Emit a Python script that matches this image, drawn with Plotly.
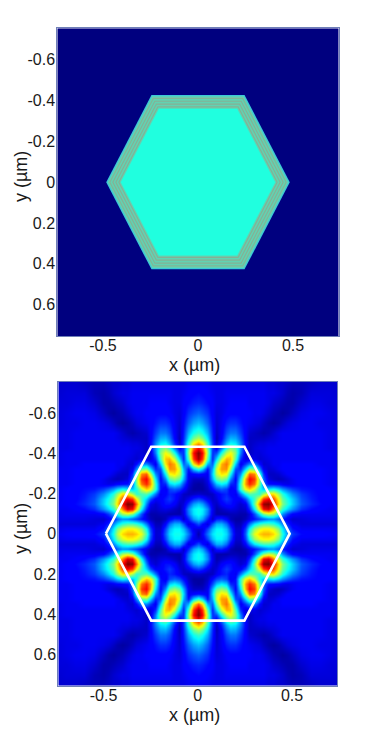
import numpy as np
import plotly.graph_objects as go

W, H = 374, 735
x_ticks = [-0.5, 0, 0.5]
x_labels = ["-0.5", "0", "0.5"]
y_ticks = [-0.6, -0.4, -0.2, 0, 0.2, 0.4, 0.6]
y_labels = ["-0.6", "-0.4", "-0.2", "0", "0.2", "0.4", "0.6"]

# top panel: layer boundaries (apothem, um) and their colours, outside to inside
layer_apothem = [0.428, 0.421, 0.414, 0.408, 0.400, 0.394, 0.386, 0.380, 0.372, 0.366, 0.360]
layer_color = ["#3cc8d8", "#62d2b2", "#82b596", "#62d2b2", "#86b094", "#62d2b2",
               "#86b094", "#62d2b2", "#86b094", "#62d2b2", "#20ffdf"]

# bottom panel: field intensity, one quadrant (x>=0, y>=0)
grid_axis = [0, .025, .05, .075, .10, .125, .15, .175, .20, .225, .25, .275, .30, .325, .35,
             .375, .40, .425, .45, .475, .50, .55, .60, .65, .70, .75]
field_quadrant = [
 [.04,.12,.24,.35,.39,.39,.34,.22,.08,.07,.22,.44,.60,.67,.70,.70,.66,.56,.40,.27,.18,.13,.12,.12,.11,.10],
 [.08,.09,.19,.31,.37,.37,.31,.19,.07,.07,.19,.38,.53,.60,.63,.63,.59,.50,.36,.23,.14,.10,.10,.10,.10,.09],
 [.20,.13,.08,.21,.30,.30,.23,.12,.05,.05,.12,.24,.36,.42,.45,.45,.42,.35,.26,.16,.10,.08,.08,.08,.08,.08],
 [.33,.28,.16,.06,.15,.16,.11,.05,.03,.03,.05,.09,.14,.19,.22,.26,.27,.22,.15,.10,.07,.08,.09,.09,.09,.09],
 [.39,.35,.24,.09,.04,.04,.04,.05,.05,.04,.04,.08,.20,.36,.50,.57,.53,.40,.27,.18,.12,.10,.10,.10,.10,.09],
 [.39,.36,.26,.10,.04,.06,.08,.09,.08,.06,.07,.17,.38,.65,.88,.92,.75,.56,.42,.34,.27,.17,.13,.11,.10,.10],
 [.32,.28,.18,.08,.06,.11,.14,.14,.10,.07,.10,.25,.48,.76,.98,1.0,.87,.66,.50,.41,.33,.21,.16,.13,.11,.10],
 [.19,.16,.10,.06,.08,.14,.18,.15,.11,.11,.20,.33,.44,.62,.82,.88,.80,.62,.47,.39,.32,.20,.15,.12,.11,.10],
 [.07,.06,.05,.06,.10,.14,.16,.12,.10,.24,.38,.46,.44,.42,.54,.64,.65,.53,.41,.33,.26,.18,.14,.12,.11,.10],
 [.03,.03,.06,.13,.19,.22,.19,.10,.14,.42,.62,.68,.58,.40,.32,.35,.38,.33,.27,.22,.18,.14,.13,.12,.11,.10],
 [.03,.04,.08,.20,.32,.37,.33,.16,.14,.42,.72,.84,.76,.50,.22,.14,.13,.12,.10,.09,.10,.12,.12,.11,.10,.10],
 [.06,.06,.10,.30,.46,.52,.47,.26,.12,.36,.70,.88,.82,.52,.22,.08,.06,.05,.06,.08,.10,.12,.12,.11,.10,.10],
 [.14,.12,.10,.34,.56,.65,.62,.38,.15,.26,.55,.78,.74,.44,.17,.06,.06,.07,.09,.11,.12,.12,.12,.11,.10,.10],
 [.42,.33,.14,.30,.58,.72,.73,.52,.20,.16,.34,.50,.48,.26,.10,.07,.08,.10,.11,.12,.12,.12,.11,.11,.10,.10],
 [.78,.64,.30,.22,.48,.70,.76,.64,.33,.10,.18,.26,.25,.13,.07,.08,.10,.10,.11,.11,.11,.11,.11,.10,.10,.09],
 [.97,.82,.46,.16,.34,.57,.70,.68,.45,.17,.08,.09,.09,.07,.08,.09,.10,.10,.10,.10,.10,.10,.10,.10,.10,.09],
 [1.0,.87,.52,.17,.20,.40,.56,.62,.50,.25,.08,.06,.08,.08,.09,.10,.10,.10,.10,.10,.10,.10,.10,.10,.10,.09],
 [.88,.76,.48,.18,.10,.24,.41,.50,.45,.28,.11,.06,.08,.09,.09,.10,.10,.10,.10,.10,.10,.10,.10,.10,.09,.09],
 [.70,.62,.42,.18,.06,.16,.30,.37,.35,.25,.12,.06,.07,.08,.08,.09,.09,.10,.10,.10,.10,.10,.10,.10,.09,.09],
 [.54,.48,.35,.16,.05,.12,.24,.30,.29,.21,.11,.06,.06,.06,.06,.07,.08,.09,.10,.10,.10,.10,.10,.10,.09,.09],
 [.43,.39,.30,.15,.06,.11,.20,.24,.24,.18,.11,.07,.06,.05,.04,.05,.07,.09,.10,.10,.10,.10,.10,.10,.09,.09],
 [.31,.28,.22,.13,.07,.10,.15,.17,.17,.14,.11,.10,.09,.08,.06,.04,.03,.04,.06,.08,.09,.10,.10,.09,.09,.08],
 [.22,.20,.17,.11,.08,.09,.11,.12,.12,.12,.11,.11,.10,.10,.09,.07,.05,.04,.03,.04,.06,.09,.10,.10,.09,.08],
 [.16,.15,.13,.11,.09,.09,.10,.11,.11,.11,.11,.10,.10,.10,.10,.09,.07,.06,.05,.04,.04,.07,.09,.09,.08,.08],
 [.13,.12,.11,.10,.09,.09,.10,.10,.10,.10,.10,.10,.10,.10,.10,.09,.09,.08,.07,.05,.04,.05,.08,.08,.08,.07],
 [.10,.10,.10,.09,.09,.09,.09,.09,.09,.09,.09,.09,.09,.09,.09,.08,.08,.07,.07,.06,.05,.05,.06,.07,.07,.07],
]
hex_outline_apothem = 0.432

JET = [[0, "#00007f"], [0.11, "#0000ff"], [0.125, "#0000ff"], [0.375, "#00ffff"],
       [0.625, "#ffff00"], [0.875, "#ff0000"], [1, "#7f0000"]]


def hexagon(a):
    vx = a * 1.128
    ex = a * 0.572
    return [-vx, -ex, ex, vx, ex, -ex, -vx], [0, -a, -a, 0, a, a, 0]


q = np.array(field_quadrant)
right = np.hstack([q[:, :0:-1], q])
full = np.vstack([right[:0:-1, :], right])
axis = np.array(grid_axis)
axis_full = np.concatenate([-axis[:0:-1], axis])

fig = go.Figure()
fig.add_trace(go.Scatter(x=[-.74, .74, .74, -.74, -.74], y=[-.755, -.755, .755, .755, -.755],
                         mode="lines", fill="toself", fillcolor="#00007f",
                         line=dict(width=0), xaxis="x", yaxis="y", hoverinfo="skip"))
for a, c in zip(layer_apothem, layer_color):
    hx, hy = hexagon(a)
    fig.add_trace(go.Scatter(x=hx, y=hy, mode="lines", fill="toself", fillcolor=c,
                             line=dict(width=0), xaxis="x", yaxis="y", hoverinfo="skip"))

fig.add_trace(go.Heatmap(x=axis_full, y=axis_full, z=full, zmin=0, zmax=1, colorscale=JET,
                         zsmooth="best", showscale=False, xaxis="x2", yaxis="y2"))
hx, hy = hexagon(hex_outline_apothem)
fig.add_trace(go.Scatter(x=hx, y=hy, mode="lines", line=dict(color="white", width=2.6),
                         xaxis="x2", yaxis="y2", hoverinfo="skip"))

font = dict(family="Liberation Sans, Arial, sans-serif", size=16, color="#1a1a1a")
tfont = dict(family="Liberation Sans, Arial, sans-serif", size=18, color="#1a1a1a")


def xa(dom, anchor):
    return dict(domain=dom, anchor=anchor, range=[-.74, .74], tickvals=x_ticks, ticktext=x_labels,
                ticks="", tickfont=font, ticklabelstandoff=-5, showgrid=False, zeroline=False,
                showline=True, mirror=True, linecolor="#6f7fb8", linewidth=1)


def ya(dom, anchor):
    return dict(domain=dom, anchor=anchor, range=[.755, -.755], tickvals=y_ticks, ticktext=y_labels,
                ticks="", tickfont=font, ticklabelstandoff=-2, showgrid=False, zeroline=False,
                showline=True, mirror=True, linecolor="#6f7fb8", linewidth=1)


def title(text, px, py, angle=0):
    return dict(text=text, x=px / W, y=1 - py / H, xref="paper", yref="paper", showarrow=False,
                xanchor="center", yanchor="middle", textangle=angle, font=tfont)


fig.update_layout(
    width=W, height=H, margin=dict(l=0, r=0, t=0, b=0), showlegend=False,
    paper_bgcolor="white", plot_bgcolor="white",
    xaxis=xa([57.3 / W, 338.7 / W], "y"),
    yaxis=ya([1 - 336 / H, 1 - 28.3 / H], "x"),
    xaxis2=xa([58.3 / W, 337.3 / W], "y2"),
    yaxis2=ya([1 - 685.7 / H, 1 - 381.7 / H], "x2"),
    annotations=[title("x (µm)", 194, 365), title("y (µm)", 21, 177, -90),
                 title("x (µm)", 194, 715), title("y (µm)", 21, 529, -90)],
)

fig.write_html("out.html", config=dict(displayModeBar=False, responsive=False),
               post_script="document.body.style.margin='0';document.documentElement.style.overflow='hidden';")
